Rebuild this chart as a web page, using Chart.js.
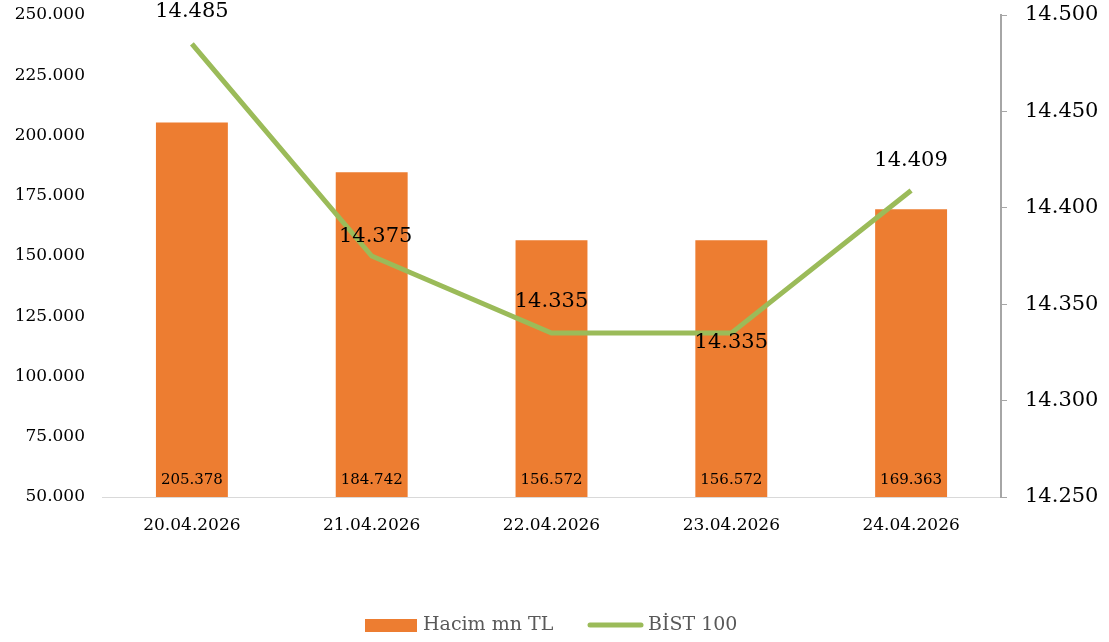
<!DOCTYPE html>
<html>
<head>
<meta charset="utf-8">
<script src="https://cdn.jsdelivr.net/npm/chart.js@4/dist/chart.umd.min.js"></script>
<style>
  html, body { margin: 0; padding: 0; background: #fff; }
  #wrap { width: 1109px; height: 642px; }
</style>
</head>
<body>
<div id="wrap"><canvas id="hacimChart"></canvas></div>
<script>
// ========================================
// HACIM & BIST 100 - DATA
// ========================================
const tarihler = ['20.04.2026', '21.04.2026', '22.04.2026', '23.04.2026', '24.04.2026'];
const hacim = [205378, 184742, 156572, 156572, 169363];
const bist100 = [14485, 14375, 14335, 14335, 14409];

const FONT = "'DejaVu Serif', 'Liberation Serif', serif";
const ORANGE = '#ED7D31';
const GREEN = '#9BBB59';

// Turkish number format: 205.378
function fmt(v) {
    return Math.round(v).toString().replace(/\B(?=(\d{3})+(?!\d))/g, '.');
}

// Value labels + legend, drawn on top
const labelPlugin = {
    id: 'labelPlugin',
    afterDatasetsDraw(chart) {
        const ctx = chart.ctx;
        const bottom = chart.chartArea.bottom;
        ctx.save();
        ctx.fillStyle = '#000';
        ctx.textAlign = 'center';
        ctx.textBaseline = 'middle';

        // bar labels at the inside bottom
        ctx.font = '15px ' + FONT;
        chart.getDatasetMeta(0).data.forEach((bar, i) => {
            ctx.fillText(fmt(hacim[i]), bar.x, bottom - 17);
        });

        // line labels
        ctx.font = '21px ' + FONT;
        const offs = [[0, -32], [4, -19], [0, -32], [0, 9], [0, -30]];
        chart.getDatasetMeta(1).data.forEach((pt, i) => {
            ctx.fillText(fmt(bist100[i]), pt.x + offs[i][0], pt.y + offs[i][1]);
        });

        // legend
        const ly = 625;
        ctx.textAlign = 'left';
        ctx.font = '19px ' + FONT;
        ctx.fillStyle = ORANGE;
        ctx.fillRect(365, ly - 6, 52, 13);
        ctx.fillStyle = '#595959';
        ctx.fillText('Hacim mn TL', 423, ly);
        ctx.strokeStyle = GREEN;
        ctx.lineWidth = 5;
        ctx.lineCap = 'round';
        ctx.beginPath();
        ctx.moveTo(590, ly);
        ctx.lineTo(641, ly);
        ctx.stroke();
        ctx.fillText('BİST 100', 648, ly);
        ctx.restore();
    }
};

// no extra padding for half tick labels
function noPad(s) {
    s.paddingTop = 0;
    s.paddingBottom = 0;
}

const ctx = document.getElementById('hacimChart').getContext('2d');
new Chart(ctx, {
    type: 'bar',
    data: {
        labels: tarihler,
        datasets: [
            {
                label: 'Hacim mn TL',
                data: hacim,
                backgroundColor: ORANGE,
                barPercentage: 0.4,
                categoryPercentage: 1,
                yAxisID: 'y',
                order: 2
            },
            {
                type: 'line',
                label: 'BİST 100',
                data: bist100,
                borderColor: GREEN,
                borderWidth: 5,
                pointRadius: 0,
                tension: 0,
                yAxisID: 'y1',
                order: 1
            }
        ]
    },
    options: {
        responsive: true,
        maintainAspectRatio: false,
        animation: false,
        layout: { padding: { top: 15, bottom: 105, left: 0, right: 0 } },
        plugins: {
            legend: { display: false },
            tooltip: { enabled: false }
        },
        scales: {
            x: {
                grid: { display: false, drawTicks: false },
                border: { display: true, color: '#D9D9D9', width: 1 },
                ticks: { color: '#000', padding: 18, font: { family: FONT, size: 17 } },
                afterFit: s => { s.height = 40; s.paddingLeft = 0; s.paddingRight = 0; }
            },
            y: {
                position: 'left',
                min: 50000,
                max: 250000,
                grid: { display: false, drawTicks: false },
                border: { display: false },
                ticks: {
                    stepSize: 25000,
                    color: '#000',
                    padding: 17,
                    font: { family: FONT, size: 17 },
                    callback: v => fmt(v)
                },
                afterFit: s => { s.width = 102; noPad(s); }
            },
            y1: {
                position: 'right',
                min: 14250,
                max: 14500,
                grid: { display: true, drawOnChartArea: false, drawTicks: true, tickLength: 6, color: '#A6A6A6' },
                border: { display: true, color: '#A6A6A6', width: 2 },
                ticks: {
                    stepSize: 50,
                    color: '#000',
                    padding: 18,
                    font: { family: FONT, size: 21 },
                    callback: v => fmt(v)
                },
                afterFit: s => { s.width = 108; noPad(s); }
            }
        }
    },
    plugins: [labelPlugin]
});
</script>
</body>
</html>
